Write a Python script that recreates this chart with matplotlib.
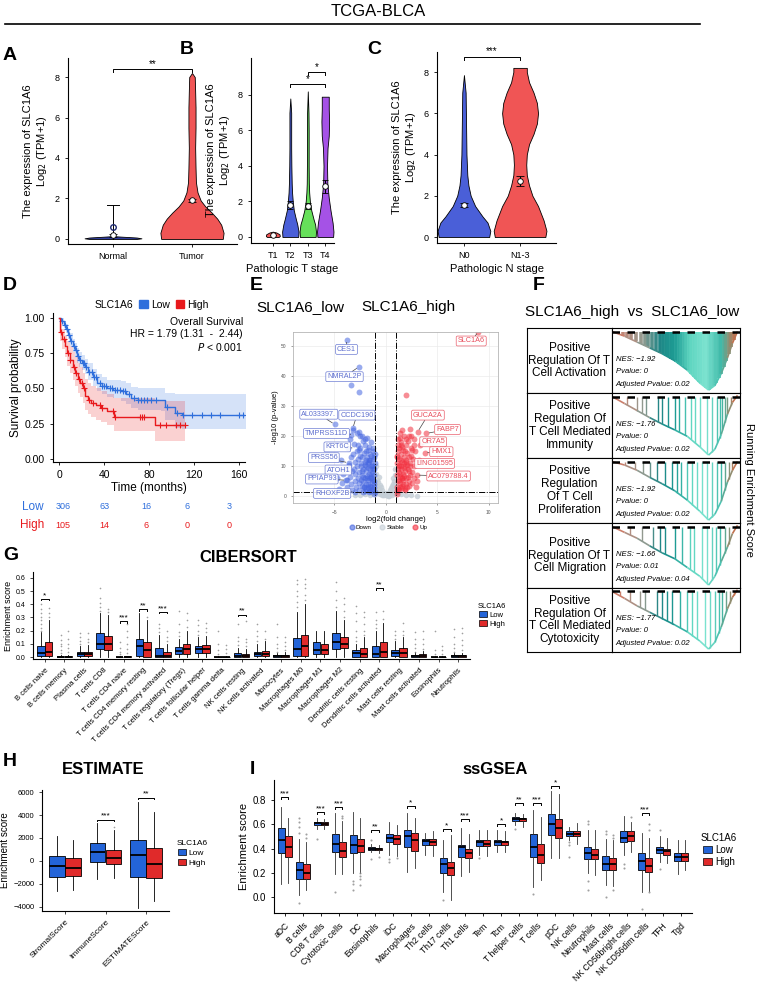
import numpy as np
import matplotlib.pyplot as plt
from matplotlib.patches import Patch
from matplotlib.lines import Line2D
from matplotlib.collections import LineCollection
from matplotlib.colors import LinearSegmentedColormap

plt.rcParams['font.family'] = ['Liberation Sans', 'DejaVu Sans']

W, H = 757, 982

# ---------------- data ----------------
# A: violin profiles (y level, half width)
normal_y = [0, 0.03, 0.07, 0.11, 0.14]
normal_w = [0.30, 0.36, 0.30, 0.12, 0.0]
tumor_y = [0, 0.3, 0.7, 1.0, 1.3, 1.6, 1.9, 2.3, 2.8, 3.5, 4.5, 5.5, 6.5, 7.3, 8.0, 8.2]
tumor_w = [0.39, 0.40, 0.37, 0.32, 0.25, 0.17, 0.11, 0.07, 0.05, 0.045, 0.04, 0.045, 0.045, 0.04, 0.035, 0.0]
a_groups = ['Normal', 'Tumor']
a_mean = [0.17, 1.9]
a_err = [0.05, 0.09]

# B: T stage
t_groups = ['T1', 'T2', 'T3', 'T4']
t1_y = [0, 0.05, 0.15, 0.25, 0.3]
t1_w = [0.33, 0.40, 0.38, 0.2, 0.0]
t2_y = [0, 0.3, 0.7, 1.0, 1.5, 2.0, 2.5, 3, 4, 5, 6, 7, 7.8]
t2_w = [0.45, 0.47, 0.40, 0.32, 0.20, 0.14, 0.10, 0.08, 0.06, 0.05, 0.05, 0.05, 0.0]
t3_y = [0, 0.3, 0.7, 1.0, 1.5, 2.0, 2.5, 3, 4, 5, 6, 7, 8.2]
t3_w = [0.45, 0.47, 0.42, 0.33, 0.20, 0.12, 0.08, 0.06, 0.05, 0.05, 0.05, 0.04, 0.0]
t4_y = [0, 0.3, 0.8, 1.5, 2.2, 3, 4, 5, 5.7, 6.5, 7.2, 7.85, 7.9, 7.9]
t4_w = [0.45, 0.47, 0.42, 0.30, 0.20, 0.12, 0.10, 0.13, 0.20, 0.22, 0.20, 0.20, 0.2, 0.0]
t_mean = [0.1, 1.8, 1.75, 2.85]
t_err = [0.0, 0.2, 0.15, 0.38]

# C: N stage
n_groups = ['N0', 'N1-3']
n0_y = [0, 0.3, 0.7, 1.0, 1.5, 2.0, 2.5, 3, 4, 5, 6, 7, 7.85]
n0_w = [0.45, 0.47, 0.42, 0.33, 0.20, 0.12, 0.08, 0.06, 0.045, 0.04, 0.035, 0.03, 0.0]
n1_y = [0, 0.3, 0.8, 1.5, 2.0, 2.5, 3.0, 3.5, 4.0, 4.5, 5.0, 5.5, 6.0, 6.5, 7.0, 7.5, 8.0, 8.2, 8.2]
n1_w = [0.45, 0.47, 0.42, 0.32, 0.22, 0.16, 0.12, 0.11, 0.12, 0.16, 0.24, 0.30, 0.32, 0.30, 0.24, 0.16, 0.12, 0.12, 0.0]
n_mean = [1.55, 2.7]
n_err = [0.1, 0.25]

# D: Kaplan-Meier
low_t = [0, 2, 4, 6, 8, 10, 12, 14, 16, 18, 20, 23, 26, 30, 34, 38, 43, 48, 55, 60, 64, 70, 91, 94, 103, 109, 166]
low_s = [1.0, 0.98, 0.95, 0.92, 0.88, 0.84, 0.80, 0.77, 0.73, 0.70, 0.68, 0.65, 0.62, 0.58, 0.54, 0.52, 0.50, 0.49, 0.48, 0.46, 0.43, 0.42, 0.42, 0.37, 0.325, 0.31, 0.31]
low_lo = [1.0, 0.96, 0.93, 0.89, 0.85, 0.80, 0.76, 0.72, 0.68, 0.65, 0.63, 0.60, 0.56, 0.52, 0.48, 0.46, 0.44, 0.43, 0.41, 0.39, 0.36, 0.35, 0.34, 0.28, 0.22, 0.21, 0.21]
low_hi = [1.0, 1.0, 0.98, 0.96, 0.92, 0.89, 0.85, 0.82, 0.79, 0.76, 0.74, 0.71, 0.68, 0.64, 0.60, 0.58, 0.56, 0.56, 0.55, 0.54, 0.51, 0.50, 0.50, 0.47, 0.46, 0.46, 0.46]
high_t = [0, 1, 3, 5, 7, 9.6, 12, 14, 17, 19, 21, 23, 26, 28, 33, 37, 43, 49, 85, 112]
high_s = [1.0, 0.90, 0.85, 0.80, 0.75, 0.70, 0.65, 0.61, 0.57, 0.54, 0.50, 0.45, 0.42, 0.40, 0.38, 0.36, 0.34, 0.30, 0.24, 0.24]
high_lo = [1.0, 0.84, 0.78, 0.72, 0.66, 0.61, 0.56, 0.52, 0.47, 0.44, 0.40, 0.35, 0.32, 0.30, 0.28, 0.26, 0.24, 0.20, 0.13, 0.13]
high_hi = [1.0, 0.96, 0.92, 0.88, 0.84, 0.80, 0.76, 0.72, 0.68, 0.65, 0.61, 0.57, 0.54, 0.52, 0.50, 0.48, 0.46, 0.43, 0.41, 0.41]
low_cens = [3, 5, 7, 9, 11, 13, 15, 17, 19, 21, 22, 24, 27, 29, 31, 33, 36, 38, 40, 42, 45, 47, 50, 52, 54, 57,
            59, 62, 67, 70, 73, 76, 78, 82, 86, 96, 105, 110, 118, 127, 135, 143, 160, 164]
high_cens = [1.5, 4, 8, 10, 13, 15, 18, 20, 22, 27, 30, 36, 38, 48, 50, 72, 74, 76, 90, 95, 104, 108, 112]
risk_times = [0, 40, 80, 120, 160]
risk_low = [306, 63, 16, 6, 3]
risk_high = [105, 14, 6, 0, 0]

# E: volcano
down_x = [-1.05, -1.1, -1.15, -1.1, -1.2, -1.05, -1.3, -1.35, -1.4, -1.3, -1.45, -1.25, -1.5, -1.6, -1.55, -1.7,
          -1.65, -1.75, -1.6, -1.8, -1.7, -1.9, -1.95, -2.0, -1.9, -2.05, -1.95, -2.1, -2.0, -2.2, -2.3, -2.25,
          -2.35, -2.2, -2.4, -2.3, -2.45, -2.2, -2.6, -2.55, -2.7, -2.6, -2.75, -2.65, -2.8, -2.5, -2.9, -3.0,
          -2.95, -3.1, -3.0, -3.2, -3.05, -2.8, -3.3, -3.4, -3.5, -3.3, -3.6, -3.4, -3.7, -3.5, -3.2, -3.8,
          -3.9, -4.1, -4.0, -4.3, -4.5, -4.2, -4.7, -1.2, -1.4, -1.8, -2.6, -1.0, -1.5, -2.0, -1.15, -1.4,
          -1.25, -1.6, -1.85, -2.15, -2.4, -1.1, -1.3, -1.7,
          -1.1, -1.2, -1.3, -1.4, -1.5, -1.6, -1.7, -1.8, -1.9, -2.0, -2.1, -2.2, -2.3, -2.4, -2.5, -2.6, -2.7,
          -1.3, -1.5, -1.6, -1.9, -2.0, -2.3, -1.1, -1.2, -1.4, -1.55, -1.75,
          -3.8, -2.6, -3.4, -2.6, -4.95, -3.2, -3.4, -3.6, -3.8, -3.0]
down_y = [1.5, 3, 5, 7, 9, 11, 2, 4.5, 6.5, 8, 10, 12.5, 14, 1.5, 3.5, 5.5, 7.5, 9.5, 11.5, 13, 15.5, 2.5, 4, 6,
          8.5, 10.5, 12, 14.5, 17, 1.5, 3.5, 5, 7, 9, 11, 13, 16, 18.5, 2, 4.5, 6, 8, 10, 12.5, 15, 20, 3, 5,
          7.5, 9, 11.5, 14, 17.5, 21, 2, 4, 6.5, 8.5, 10.5, 13, 16, 19, 22, 3, 5.5, 7.5, 9.5, 12, 2.5, 4.5, 6,
          16, 18, 19.5, 21.5, 14, 1.6, 1.8, 4, 13.5, 10, 12, 6, 3, 5.5, 9, 6, 3,
          0.8, 2.5, 5.5, 7.5, 9, 2.8, 4.2, 6.8, 10, 11.5, 3, 6.5, 8.5, 10, 13.5, 15.5, 17,
          10.5, 12, 16.5, 15, 19, 20, 13, 15, 3.2, 6.2, 11,
          52.2, 43.1, 37, 34.8, 23.9, 22.6, 20.5, 11.1, 5.3, 1.5]
stable_x = [0, 0.2, -0.2, 0.4, -0.4, 0.6, -0.6, 0.8, -0.8, 0.9, -0.9, 0.95, -0.95, 0.1, -0.1, 0.3, -0.3, 0.5,
            -0.5, 0.7, -0.7, 0.85, -0.85, 0.6, -0.6, 0.8, -0.8, 0.9, -0.9, 0.0, 0.7, -0.7, 0.9, -0.9, 0.5, -0.5,
            1.5, -1.5, 2.0, -2.0, 2.5, -2.5, 3.0, -3.0, 1.2, -1.2, 0.4, -0.4, 0.2, -0.2, 0.75, -0.75]
stable_y = [0.3, 1, 1.2, 2, 2.2, 3.5, 3.8, 5, 5.5, 7, 7.5, 9, 10, 0.5, 0.6, 0.2, 0.3, 1, 1.2, 2, 2.4, 3, 3.2,
            0.5, 0.6, 1, 1.2, 2, 2, 1.0, 6, 6.5, 4, 4.5, 2.8, 3, 0.6, 0.5, 0.4, 0.7, 0.3, 0.3, 0.2, 0.5, 1, 1,
            0.6, 0.4, 0.2, 0.3, 4.2, 4.6]
up_x = [1.05, 1.1, 1.15, 1.1, 1.2, 1.05, 1.3, 1.35, 1.4, 1.3, 1.45, 1.25, 1.5, 1.55, 1.7, 1.65, 1.75, 1.6, 1.8,
        1.7, 1.9, 1.95, 2.0, 1.9, 2.05, 1.95, 2.1, 2.0, 2.3, 2.25, 2.35, 2.2, 2.4, 2.3, 2.45, 2.2, 2.6, 2.7,
        2.6, 2.75, 2.65, 2.8, 2.5, 1.3, 1.5, 1.8, 1.2, 1.4, 2.9, 3.0, 1.6, 2.4, 2.7, 1.1, 1.3, 1.6, 1.45, 1.9,
        1.1, 1.2, 1.3, 1.4, 1.5, 1.6, 1.7, 1.8, 1.9, 2.0, 2.1, 2.2, 2.3, 2.4, 2.5, 2.6, 2.7, 1.3, 1.5, 1.6,
        1.9, 2.0, 2.3, 1.1, 1.2, 1.4, 1.55, 1.75, 1.15, 1.35,
        9.0, 2.0, 3.1, 3.95, 3.8, 3.0, 3.3, 3.2]
up_y = [1.6, 3, 5, 7, 9, 11, 2, 4.5, 6.5, 8, 10, 12.5, 14, 3.5, 5.5, 7.5, 9.5, 11.5, 13, 15.5, 2.5, 4, 6, 8.5,
        10.5, 12, 14.5, 17, 3.5, 5, 7, 9, 11, 13, 16, 18.5, 4.5, 6, 8, 10, 12.5, 15, 20, 16, 18, 20, 19, 21, 3,
        5, 22, 22.5, 19, 13.5, 10, 6, 17, 2,
        0.8, 2.5, 5.5, 7.5, 9, 2.8, 4.2, 6.8, 10, 11.5, 3, 6.5, 8.5, 10, 13.5, 15.5, 17, 10.5, 12, 16.5,
        15, 19, 20, 13, 15, 3.2, 6.2, 11, 17, 19.5,
        54.8, 33.7, 21.4, 20.9, 14.4, 7.0, 17.0, 12.0]
# label text, point x, point y, label x, label y
down_labels = [('CES1', -3.8, 52.2, -3.8, 48.9), ('NMRAL2P', -2.6, 43.1, -4.0, 39.8),
               ('AL033397.', -4.95, 23.9, -6.5, 27.3), ('CCDC190', -3.2, 22.6, -2.8, 27.0),
               ('TMPRSS11D', -3.4, 20.5, -5.75, 20.9), ('KRT6C', -3.0, 16.0, -4.7, 16.4),
               ('PRSS56', -3.6, 11.1, -6.0, 12.8), ('ATOH1', -3.3, 8.5, -4.6, 8.7),
               ('PPIAP93', -3.8, 5.3, -6.2, 5.7), ('RHOXF2B', -3.0, 1.5, -5.2, 0.9)]
up_labels = [('SLC1A6', 9.0, 54.8, 8.3, 51.7), ('GUCA2A', 3.1, 21.4, 4.1, 27.0),
             ('FABP7', 3.95, 20.9, 6.0, 22.2), ('OR7A5', 3.3, 17.0, 4.6, 18.1),
             ('HMX1', 3.8, 14.4, 5.4, 14.8), ('LINC01595', 3.2, 12.0, 4.75, 10.9),
             ('AC079788.4', 3.0, 7.0, 6.1, 6.7)]

# F: GSEA
gsea_names = ['Positive\nRegulation Of T\nCell Activation',
              'Positive\nRegulation Of\nT Cell Mediated\nImmunity',
              'Positive\nRegulation\nOf T Cell\nProliferation',
              'Positive\nRegulation Of T\nCell Migration',
              'Positive\nRegulation Of\nT Cell Mediated\nCytotoxicity']
gsea_nes = ['\u22121.92', '\u22121.76', '\u22121.92', '\u22121.66', '\u22121.77']
gsea_p = ['0', '0', '0', '0.01', '0']
gsea_padj = ['0.02', '0.02', '0.02', '0.04', '0.02']
gsea_x = [0, 0.1, 0.2, 0.3, 0.4, 0.5, 0.6, 0.7, 0.77, 0.82, 0.87, 0.92, 0.96, 1.0]
gsea_es = [[0, -0.08, -0.18, -0.28, -0.38, -0.50, -0.66, -0.88, -1.0, -0.92, -0.72, -0.45, -0.20, 0.0],
           [0, -0.12, -0.24, -0.36, -0.47, -0.57, -0.68, -0.86, -1.0, -0.90, -0.65, -0.30, -0.10, 0.02],
           [0, -0.06, -0.15, -0.27, -0.38, -0.50, -0.66, -0.85, -1.0, -0.90, -0.68, -0.35, -0.15, 0.0],
           [0, -0.10, -0.20, -0.33, -0.45, -0.55, -0.70, -0.85, -1.0, -0.85, -0.60, -0.35, -0.12, 0.02],
           [0, -0.12, -0.25, -0.36, -0.47, -0.58, -0.70, -0.86, -1.0, -0.88, -0.62, -0.30, -0.10, 0.03]]
gsea_hits = [[0.02, 0.05, 0.09, 0.12, 0.15, 0.19, 0.23, 0.26, 0.29, 0.32, 0.35, 0.38, 0.41, 0.43, 0.45, 0.47,
              0.49, 0.51, 0.53, 0.55, 0.57, 0.59, 0.61, 0.63, 0.65, 0.67, 0.69, 0.71, 0.73, 0.75, 0.77, 0.79,
              0.81, 0.83, 0.85, 0.87, 0.89, 0.91, 0.93, 0.95, 0.97],
             [0.03, 0.12, 0.2, 0.24, 0.27, 0.37, 0.4, 0.45, 0.5, 0.53, 0.58, 0.63, 0.66, 0.7, 0.76, 0.8, 0.84,
              0.86, 0.88, 0.9, 0.92, 0.95],
             [0.04, 0.1, 0.18, 0.25, 0.3, 0.36, 0.42, 0.48, 0.52, 0.55, 0.6, 0.64, 0.68, 0.72, 0.76, 0.8, 0.84,
              0.87, 0.9, 0.93, 0.96],
             [0.05, 0.14, 0.24, 0.33, 0.38, 0.42, 0.5, 0.56, 0.62, 0.65, 0.72, 0.76, 0.8, 0.83, 0.86, 0.9, 0.93],
             [0.06, 0.14, 0.22, 0.26, 0.36, 0.4, 0.44, 0.48, 0.54, 0.6, 0.64, 0.68, 0.74, 0.78, 0.82, 0.85,
              0.88, 0.91, 0.94, 0.97]]

# G: CIBERSORT (whislo, q1, med, q3, whishi)
cib_cells = ['B cells naive', 'B cells memory', 'Plasma cells', 'T cells CD8', 'T cells CD4 naive',
             'T cells CD4 memory resting', 'T cells CD4 memory activated', 'T cells regulatory (Tregs)',
             'T cells follicular helper', 'T cells gamma delta', 'NK cells resting', 'NK cells activated',
             'Monocytes', 'Macrophages M0', 'Macrophages M1', 'Macrophages M2', 'Dendritic cells resting',
             'Dendritic cells activated', 'Mast cells resting', 'Mast cells activated', 'Eosinophils',
             'Neutrophils']
cib_low = [(0, 0.005, 0.03, 0.08, 0.19), (0, 0, 0, 0.005, 0.012), (0, 0.005, 0.02, 0.035, 0.08),
           (0, 0.06, 0.10, 0.18, 0.33), (0, 0, 0, 0.003, 0.008), (0, 0.01, 0.08, 0.14, 0.33),
           (0, 0, 0.01, 0.07, 0.17), (0, 0.02, 0.045, 0.075, 0.14), (0, 0.03, 0.06, 0.085, 0.15),
           (0, 0, 0, 0.003, 0.008), (0, 0, 0.01, 0.03, 0.07), (0, 0.005, 0.02, 0.04, 0.10),
           (0, 0.002, 0.008, 0.015, 0.03), (0, 0.01, 0.06, 0.145, 0.34), (0, 0.02, 0.055, 0.11, 0.20),
           (0, 0.06, 0.11, 0.185, 0.35), (0, 0, 0.03, 0.05, 0.10), (0, 0, 0.02, 0.08, 0.20),
           (0, 0.005, 0.03, 0.05, 0.12), (0, 0, 0.005, 0.015, 0.035), (0, 0, 0, 0.003, 0.008),
           (0, 0.002, 0.007, 0.013, 0.03)]
cib_high = [(0, 0.005, 0.04, 0.115, 0.28), (0, 0, 0, 0.006, 0.015), (0, 0.01, 0.025, 0.04, 0.09),
            (0, 0.05, 0.095, 0.16, 0.32), (0, 0, 0, 0.004, 0.01), (0, 0, 0.055, 0.115, 0.28),
            (0, 0, 0.005, 0.04, 0.10), (0, 0.02, 0.06, 0.10, 0.20), (0, 0.03, 0.06, 0.09, 0.16),
            (0, 0, 0, 0.003, 0.008), (0, 0, 0.01, 0.025, 0.06), (0, 0.005, 0.025, 0.045, 0.12),
            (0, 0.002, 0.008, 0.016, 0.035), (0, 0.01, 0.08, 0.17, 0.40), (0, 0.02, 0.05, 0.10, 0.20),
            (0, 0.065, 0.10, 0.155, 0.28), (0, 0, 0.02, 0.07, 0.15), (0, 0, 0.04, 0.11, 0.26),
            (0, 0, 0.03, 0.07, 0.15), (0, 0, 0.006, 0.02, 0.045), (0, 0, 0, 0.003, 0.008),
            (0, 0.002, 0.008, 0.014, 0.03)]
cib_low_out = [[0.2, 0.22, 0.25, 0.28, 0.3, 0.33, 0.36, 0.4], [0.03, 0.05, 0.08, 0.1, 0.13, 0.17],
               [0.1, 0.12, 0.15, 0.18], [0.35, 0.38, 0.41, 0.45, 0.52], [0.02, 0.04, 0.07, 0.11], [],
               [0.19, 0.22, 0.25], [0.16, 0.19, 0.25, 0.35], [0.17, 0.2, 0.24, 0.28], [0.02, 0.05, 0.1, 0.2],
               [0.09, 0.12, 0.15, 0.25], [0.12, 0.16, 0.2, 0.25], [0.04, 0.07, 0.1, 0.15, 0.25],
               [0.38, 0.42, 0.46, 0.5, 0.55, 0.58], [], [0.38, 0.43, 0.5, 0.57],
               [0.12, 0.15, 0.2, 0.27, 0.33, 0.39], [0.22, 0.25, 0.28, 0.34], [0.14, 0.17, 0.2],
               [0.04, 0.07, 0.1, 0.14, 0.19], [0.02, 0.05, 0.2], [0.04, 0.07, 0.1, 0.15, 0.21]]
cib_high_out = [[0.3, 0.33, 0.37], [0.04, 0.07, 0.1, 0.14, 0.2], [0.11, 0.14, 0.18], [0.34, 0.36],
                [0.03, 0.06, 0.1, 0.15, 0.2, 0.25], [0.3], [0.12, 0.15, 0.2], [0.23, 0.28, 0.33],
                [0.19, 0.22, 0.26], [0.03, 0.06, 0.09], [0.08, 0.11, 0.14, 0.27], [0.14, 0.2],
                [0.05, 0.08, 0.11, 0.15], [0.43, 0.47, 0.52, 0.55, 0.59], [], [0.3, 0.35, 0.4, 0.45],
                [0.17, 0.2, 0.25, 0.3, 0.34], [0.29, 0.35], [0.17, 0.2, 0.26], [0.06, 0.1, 0.14, 0.2],
                [0.02, 0.05, 0.08], [0.05, 0.09, 0.13, 0.18, 0.22]]
cib_sig = [(0, '*', 0.44), (4, '***', 0.27), (5, '**', 0.36), (6, '***', 0.34), (10, '**', 0.32), (17, '**', 0.52)]

# H: ESTIMATE
est_cells = ['StromalScore', 'ImmuneScore', 'ESTIMATEScore']
est_low = [(-2600, -1400, -400, 400, 2200), (-1600, -100, 800, 1550, 3300), (-4100, -1400, 500, 1850, 5100)]
est_high = [(-2550, -1300, -600, 250, 1850), (-1450, -250, 250, 950, 2700), (-3500, -1500, -250, 1100, 4300)]
est_high_out = [[], [3000], []]
est_sig = [(1, '***', 3600), (2, '**', 5500)]

# I: ssGSEA
ss_cells = ['aDC', 'B cells', 'CD8 T cells', 'Cytotoxic cells', 'DC', 'Eosinophils', 'iDC', 'Macrophages',
            'Th2 cells', 'Th17 cells', 'Th1 cells', 'Tem', 'Tcm', 'T helper cells', 'T cells', 'pDC',
            'NK cells', 'Neutrophils', 'Mast cells', 'NK CD56bright cells', 'NK CD56dim cells', 'TFH', 'Tgd']
ss_low = [(0.11, 0.36, 0.47, 0.57, 0.74), (0.02, 0.15, 0.22, 0.29, 0.48), (0.56, 0.59, 0.61, 0.62, 0.65),
          (0.19, 0.37, 0.44, 0.52, 0.69), (0.20, 0.36, 0.43, 0.51, 0.70), (0.37, 0.39, 0.40, 0.41, 0.44),
          (0.35, 0.45, 0.49, 0.52, 0.62), (0.21, 0.41, 0.50, 0.55, 0.69), (0.35, 0.43, 0.46, 0.48, 0.53),
          (0.04, 0.20, 0.27, 0.32, 0.47), (0.17, 0.33, 0.41, 0.43, 0.57), (0.35, 0.42, 0.45, 0.47, 0.55),
          (0.37, 0.43, 0.45, 0.47, 0.55), (0.59, 0.63, 0.645, 0.655, 0.69), (0.08, 0.33, 0.41, 0.52, 0.72),
          (0.32, 0.51, 0.60, 0.68, 0.87), (0.47, 0.50, 0.52, 0.54, 0.58), (0.20, 0.31, 0.36, 0.41, 0.55),
          (0.10, 0.22, 0.27, 0.34, 0.48), (0.35, 0.45, 0.49, 0.54, 0.67), (0.04, 0.22, 0.30, 0.36, 0.53),
          (0.29, 0.36, 0.39, 0.41, 0.50), (0.19, 0.30, 0.33, 0.36, 0.47)]
ss_high = [(0.12, 0.33, 0.41, 0.50, 0.65), (0.06, 0.15, 0.20, 0.27, 0.45), (0.56, 0.59, 0.60, 0.615, 0.64),
           (0.19, 0.33, 0.38, 0.45, 0.63), (0.20, 0.37, 0.42, 0.48, 0.65), (0.36, 0.385, 0.395, 0.405, 0.43),
           (0.34, 0.44, 0.48, 0.51, 0.59), (0.24, 0.38, 0.47, 0.53, 0.65), (0.34, 0.43, 0.45, 0.48, 0.54),
           (-0.02, 0.18, 0.24, 0.29, 0.51), (0.21, 0.32, 0.36, 0.40, 0.52), (0.34, 0.42, 0.44, 0.47, 0.55),
           (0.37, 0.43, 0.45, 0.46, 0.54), (0.58, 0.63, 0.64, 0.65, 0.68), (0.14, 0.28, 0.35, 0.44, 0.66),
           (0.32, 0.49, 0.57, 0.64, 0.85), (0.44, 0.50, 0.52, 0.54, 0.61), (0.18, 0.31, 0.35, 0.40, 0.55),
           (0.09, 0.22, 0.27, 0.32, 0.47), (0.37, 0.46, 0.50, 0.54, 0.62), (0.05, 0.21, 0.26, 0.32, 0.49),
           (0.28, 0.35, 0.38, 0.40, 0.49), (0.22, 0.30, 0.33, 0.36, 0.47)]
ss_low_out = [[], [-0.05, 0.53, 0.58, 0.62, 0.65], [0.48], [0.04], [0.06, 0.11, 0.13], [0.31, 0.47],
              [0.29, 0.31], [], [], [-0.02], [], [0.32], [], [0.56], [0.03], [], [0.33, 0.43, 0.45],
              [0.06, 0.13, 0.6, 0.63], [0.0, 0.52, 0.54], [0.24, 0.27], [-0.1], [0.23, 0.55], []]
ss_high_out = [[], [0.49, 0.52], [], [0.65, 0.67], [0.1, 0.15, 0.17, 0.2], [0.33], [0.32], [], [], [], [],
               [], [], [], [], [], [], [], [0.06, 0.49, 0.51], [0.66], [0.04, 0.55, 0.60], [], []]
ss_sig = [(0, '***', 0.82), (2, '***', 0.70), (3, '***', 0.74), (5, '**', 0.55), (7, '*', 0.75),
          (9, '*', 0.56), (10, '***', 0.64), (12, '*', 0.60), (13, '**', 0.77), (14, '***', 0.77),
          (15, '*', 0.91), (20, '***', 0.69)]

# ---------------- helpers ----------------
BLUE = '#2364d8'
RED = '#e02a2a'
KM_BLUE = '#2f6fdc'
KM_RED = '#e8191c'


def box(l, t, r, b):
    return [l / W, 1 - b / H, (r - l) / W, (b - t) / H]


def ftext(x, y, s, **kw):
    fig.text(x / W, 1 - y / H, s, **kw)


def violin(ax, pos, ys, ws, color):
    ys = np.array(ys)
    ws = np.array(ws)
    ax.fill_betweenx(ys, pos - ws, pos + ws, facecolor=color, edgecolor='black', lw=0.6)


def bracket(ax, x1, x2, y, label, h, fs=7):
    ax.plot([x1, x1, x2, x2], [y - h, y, y, y - h], color='black', lw=0.7)
    ax.text((x1 + x2) / 2, y, label, ha='center', va='bottom', fontsize=fs)


def simple_axes(ax):
    for s in ['top', 'right']:
        ax.spines[s].set_visible(False)
    ax.spines['left'].set_linewidth(0.8)
    ax.spines['bottom'].set_linewidth(0.8)


def stats(rows, outs):
    res = []
    for (wl, q1, md, q3, wh), fl in zip(rows, outs):
        res.append(dict(whislo=wl, q1=q1, med=md, q3=q3, whishi=wh, fliers=fl))
    return res


def grouped_box(ax, low, high, low_out, high_out, lw=0.6, ms=1.5, wcol='black'):
    n = len(low)
    pos = np.arange(1, n + 1)
    for st, off, col in [(stats(low, low_out), -0.2, BLUE), (stats(high, high_out), 0.2, RED)]:
        ax.bxp(st, positions=pos + off, widths=0.38, patch_artist=True, showcaps=False,
               boxprops=dict(facecolor=col, edgecolor='black', lw=lw),
               medianprops=dict(color='black', lw=1.3),
               whiskerprops=dict(color=wcol, lw=lw),
               flierprops=dict(marker='o', ms=ms, mfc='#888888', mec='none', alpha=0.8))


def box_legend(ax, x, y, fs):
    ax.legend(handles=[Patch(fc=BLUE, ec='black', lw=0.5), Patch(fc=RED, ec='black', lw=0.5)],
              labels=['Low', 'High'], title='SLC1A6', loc='upper left', bbox_to_anchor=(x / W, 1 - y / H),
              bbox_transform=fig.transFigure, frameon=False, fontsize=fs, title_fontsize=fs,
              handlelength=1.0, handleheight=0.8, handletextpad=0.3, labelspacing=0.2, borderpad=0)


fig = plt.figure(figsize=(W / 100, H / 100), dpi=100)

# ---------------- title ----------------
ftext(378, 12, 'TCGA-BLCA', ha='center', va='center', fontsize=12)
fig.add_artist(Line2D([5 / W, 700 / W], [1 - 24 / H, 1 - 24 / H], color='black', lw=1.2))

for lab, x, y in [('A', 3, 55), ('B', 180, 50), ('C', 367, 50), ('D', 3, 285), ('E', 250, 285),
                  ('F', 533, 285), ('G', 3, 555), ('H', 3, 762), ('I', 250, 770)]:
    ftext(x, y, lab, fontsize=14, fontweight='bold', va='center', ha='left')

ylab = 'The expression of SLC1A6\nLog$_2$ (TPM+1)'

# ---------------- A ----------------
ax = fig.add_axes(box(68, 58, 237, 244))
simple_axes(ax)
violin(ax, 1, normal_y, normal_w, '#2f3d9e')
ax.plot([1, 1], [0, 1.7], color='black', lw=0.7)
ax.plot([0.93, 1.07], [1.7, 1.7], color='black', lw=0.7)
ax.plot(1, 0.6, 'o', ms=4, mfc='none', mec='#1f2a70', mew=1)
violin(ax, 2, tumor_y, tumor_w, '#f05555')
ax.errorbar([1, 2], a_mean, yerr=a_err, fmt='o', mfc='white', mec='black', ms=4, ecolor='black',
            capsize=3, lw=0.8, mew=0.6)
bracket(ax, 1, 2, 8.4, '**', 0.15)
ax.set_xlim(0.43, 2.57)
ax.set_ylim(-0.25, 8.94)
ax.set_xticks([1, 2])
ax.set_xticklabels(a_groups)
ax.set_yticks([0, 2, 4, 6, 8])
ax.tick_params(labelsize=6.5, length=2.5, width=0.6)
ax.set_ylabel(ylab, fontsize=8, labelpad=4)

# ---------------- B ----------------
ax = fig.add_axes(box(251, 58, 334, 243))
simple_axes(ax)
for i, (ys, ws, col) in enumerate([(t1_y, t1_w, '#f05555'), (t2_y, t2_w, '#4a5fd8'),
                                   (t3_y, t3_w, '#66e05a'), (t4_y, t4_w, '#a552e6')]):
    violin(ax, i + 1, ys, ws, col)
ax.errorbar([1, 2, 3, 4], t_mean, yerr=t_err, fmt='o', mfc='white', mec='black', ms=4, ecolor='black',
            capsize=2, lw=0.8, mew=0.6)
bracket(ax, 2, 4, 8.6, '*', 0.15)
bracket(ax, 3, 4, 9.3, '*', 0.15)
ax.set_xlim(-0.25, 4.5)
ax.set_ylim(-0.34, 10.08)
ax.set_xticks([1, 2, 3, 4])
ax.set_xticklabels(t_groups)
ax.set_yticks([0, 2, 4, 6, 8])
ax.tick_params(labelsize=6.5, length=2.5, width=0.6)
ax.set_ylabel(ylab, fontsize=8, labelpad=4)
ax.set_xlabel('Pathologic T stage', fontsize=8, labelpad=3)

# ---------------- C ----------------
ax = fig.add_axes(box(437, 52, 556, 243))
simple_axes(ax)
violin(ax, 1, n0_y, n0_w, '#4a5fd8')
violin(ax, 2, n1_y, n1_w, '#f05555')
ax.errorbar([1, 2], n_mean, yerr=n_err, fmt='o', mfc='white', mec='black', ms=4, ecolor='black',
            capsize=3, lw=0.8, mew=0.6)
bracket(ax, 1, 2, 8.75, '***', 0.15)
ax.set_xlim(0.52, 2.64)
ax.set_ylim(-0.29, 8.97)
ax.set_xticks([1, 2])
ax.set_xticklabels(n_groups)
ax.set_yticks([0, 2, 4, 6, 8])
ax.tick_params(labelsize=6.5, length=2.5, width=0.6)
ax.set_ylabel(ylab, fontsize=8, labelpad=4)
ax.set_xlabel('Pathologic N stage', fontsize=8, labelpad=3)

# ---------------- D ----------------
ax = fig.add_axes(box(53, 313, 245, 462))
simple_axes(ax)
for t, s, lo, hi, cens, col in [(low_t, low_s, low_lo, low_hi, low_cens, KM_BLUE),
                                (high_t, high_s, high_lo, high_hi, high_cens, KM_RED)]:
    ax.fill_between(t, lo, hi, step='post', color=col, alpha=0.2, lw=0)
    ax.step(t, s, where='post', color=col, lw=1)
    idx = np.searchsorted(t, cens, side='right') - 1
    ax.plot(cens, np.array(s)[idx], '+', color=col, ms=4, mew=0.8)
ax.set_xlim(-5.4, 165.5)
ax.set_ylim(-0.021, 1.035)
ax.set_xticks([0, 40, 80, 120, 160])
ax.set_yticks([0, 0.25, 0.5, 0.75, 1.0])
ax.set_yticklabels(['0.00', '0.25', '0.50', '0.75', '1.00'])
ax.tick_params(labelsize=7.5, length=2.5, width=0.6)
ax.set_xlabel('Time (months)', fontsize=8.5, labelpad=1)
ax.set_ylabel('Survival probability', fontsize=8.5, labelpad=2)
ax.text(0.99, 0.97, 'Overall Survival\nHR = 1.79 (1.31  -  2.44)\n$P$ < 0.001', transform=ax.transAxes,
        ha='right', va='top', fontsize=7.5, linespacing=1.2)
ftext(95, 305, 'SLC1A6', fontsize=7.5, va='center')
ax.legend(handles=[Patch(color=KM_BLUE), Patch(color=KM_RED)], labels=['Low', 'High'], ncol=2,
          loc='center left', bbox_to_anchor=(134 / W, 1 - 305 / H), bbox_transform=fig.transFigure,
          frameon=False, fontsize=7.5, handlelength=0.8, handleheight=0.8, handletextpad=0.3,
          columnspacing=0.6, borderpad=0)

rax = fig.add_axes(box(47, 498, 245, 534))
rax.axis('off')
rax.set_xlim(-15.4, 175.4)
rax.set_ylim(0, 2)
rax.text(-15.4, 1.5, 'Low ', color=KM_BLUE, fontsize=8.5, va='center', ha='right')
rax.text(-15.4, 0.5, 'High ', color=KM_RED, fontsize=8.5, va='center', ha='right')
for t, nl, nh in zip(risk_times, risk_low, risk_high):
    rax.text(t, 1.5, str(nl), color=KM_BLUE, fontsize=6.5, ha='center', va='center')
    rax.text(t, 0.5, str(nh), color=KM_RED, fontsize=6.5, ha='center', va='center')

# ---------------- E ----------------
ax = fig.add_axes(box(293, 332, 498, 503))
ax.grid(True, color='#ebebeb', lw=0.5)
ax.set_axisbelow(True)
for s in ax.spines.values():
    s.set_color('#b5b5b5')
    s.set_linewidth(0.6)
ax.scatter(stable_x, stable_y, s=16, color='#c4ced6', alpha=0.8, lw=0)
ax.scatter(down_x, down_y, s=18, color='#4666e0', alpha=0.55, lw=0)
ax.scatter(up_x, up_y, s=18, color='#f2303f', alpha=0.55, lw=0)
ax.axvline(-1, color='black', ls='-.', lw=0.7)
ax.axvline(1, color='black', ls='-.', lw=0.7)
ax.axhline(1.3, color='black', ls='-.', lw=0.7)
for labels, col in [(down_labels, '#5e6fcf'), (up_labels, '#e84d5c')]:
    for name, px, py, lx, ly in labels:
        ax.annotate(name, xy=(px, py), xytext=(lx, ly), fontsize=5.2, color=col, ha='center', va='center',
                    bbox=dict(boxstyle='round,pad=0.2', fc='white', ec=col, lw=0.5, alpha=0.9),
                    arrowprops=dict(arrowstyle='-', color='#444444', lw=0.5, shrinkA=0, shrinkB=2))
ax.set_xlim(-9.0, 10.9)
ax.set_ylim(-2.3, 54.7)
ax.set_xticks([-5, 0, 5, 10])
ax.set_yticks([0, 10, 20, 30, 40, 50])
ax.tick_params(labelsize=3.5, length=1.5, width=0.4, colors='#555555')
ax.set_xlabel('log2(fold change)', fontsize=5.5, labelpad=1)
ax.set_ylabel('-log10 (p-value)', fontsize=5.5, labelpad=1)
ax.legend(handles=[Line2D([], [], ls='', marker='o', ms=3.5, color=c, alpha=0.6) for c in
                   ['#4666e0', '#c4ced6', '#f2303f']], labels=['Down', 'Stable', 'Up'], ncol=3,
          loc='center', bbox_to_anchor=(388 / W, 1 - 527 / H), bbox_transform=fig.transFigure,
          frameon=False, fontsize=4.5, handletextpad=0.2, columnspacing=1.2, handlelength=1)
ftext(300, 307, 'SLC1A6_low', fontsize=11, ha='center', va='center')
ftext(408, 307, 'SLC1A6_high', fontsize=11, ha='center', va='center')

# ---------------- F ----------------
ftext(632, 312, 'SLC1A6_high  vs  SLC1A6_low', fontsize=11, ha='center', va='center')
gcmap = LinearSegmentedColormap.from_list('gsea', ['#d9735c', '#b58e80', '#8f9a90', '#1f8585', '#1d9b93',
                                                   '#5ed5c0', '#7ce3d0', '#3fb9a8', '#d9653f'])
row_edges = [328, 393, 458, 523, 588, 652]
for i in range(5):
    top, bot = row_edges[i], row_edges[i + 1]
    lax = fig.add_axes(box(527, top, 612, bot))
    lax.set_xticks([])
    lax.set_yticks([])
    for s in lax.spines.values():
        s.set_linewidth(0.8)
    lax.text(0.5, 0.5, gsea_names[i], ha='center', va='center', fontsize=8.5, transform=lax.transAxes,
             linespacing=1.1)
    gax = fig.add_axes(box(612, top, 740, bot))
    gax.set_xticks([])
    gax.set_yticks([])
    for s in gax.spines.values():
        s.set_linewidth(0.8)
    hits = np.array(gsea_hits[i])
    hit_es = np.interp(hits, gsea_x, gsea_es[i])
    segs = [[(h, 0), (h, e)] for h, e in zip(hits, hit_es)]
    gax.add_collection(LineCollection(segs, colors=gcmap(hits), lw=2.6 if i == 0 else 1.0))
    pts = np.column_stack([gsea_x, gsea_es[i]])
    csegs = [[pts[k], pts[k + 1]] for k in range(len(pts) - 1)]
    mids = (np.array(gsea_x[:-1]) + np.array(gsea_x[1:])) / 2
    gax.add_collection(LineCollection(csegs, colors=gcmap(mids), lw=1.2))
    gax.axhline(0, color='black', ls=(0, (3, 3)), lw=1.8)
    gax.set_xlim(0, 1.02)
    gax.set_ylim(-1.05, 0.06)
    gax.text(0.03, 0.52, 'NES: ' + gsea_nes[i], transform=gax.transAxes, fontsize=5.5, style='italic',
             va='center')
    gax.text(0.03, 0.33, 'Pvalue: ' + gsea_p[i], transform=gax.transAxes, fontsize=5.5, style='italic',
             va='center')
    gax.text(0.03, 0.13, 'Adjusted Pvalue: ' + gsea_padj[i], transform=gax.transAxes, fontsize=5.5,
             style='italic', va='center')
ftext(749, 490, 'Running Enrichment Score', fontsize=8, rotation=270, ha='center', va='center')

# ---------------- G ----------------
ax = fig.add_axes(box(33, 572, 470, 659))
simple_axes(ax)
grouped_box(ax, cib_low, cib_high, cib_low_out, cib_high_out, lw=0.6, ms=1.2)
for i, lab, y in cib_sig:
    bracket(ax, i + 1 - 0.2, i + 1 + 0.2, y, lab, 0.01, fs=6)
ax.set_xlim(0.4, 22.6)
ax.set_ylim(-0.015, 0.644)
ax.set_xticks(np.arange(1, len(cib_cells) + 1))
ax.set_xticklabels(cib_cells, rotation=45, ha='right', rotation_mode='anchor')
ax.set_yticks([0, 0.1, 0.2, 0.3, 0.4, 0.5, 0.6])
ax.tick_params(axis='y', labelsize=5, length=2, width=0.5)
ax.tick_params(axis='x', labelsize=5.5, length=2, width=0.5)
ax.set_ylabel('Enrichment score', fontsize=6.5, labelpad=2)
ftext(248, 557, 'CIBERSORT', fontsize=12, fontweight='bold', ha='center', va='center')
box_legend(ax, 474, 599, 5.5)

# ---------------- H ----------------
ax = fig.add_axes(box(42, 790, 169, 911))
simple_axes(ax)
grouped_box(ax, est_low, est_high, [[], [], []], est_high_out, lw=0.6, ms=1.2)
for i, lab, y in est_sig:
    bracket(ax, i + 1 - 0.2, i + 1 + 0.2, y, lab, 150, fs=6)
ax.set_xlim(0.43, 3.57)
ax.set_ylim(-4348, 6174)
ax.set_xticks([1, 2, 3])
ax.set_xticklabels(est_cells, rotation=45, ha='right', rotation_mode='anchor')
ax.set_yticks([-4000, -2000, 0, 2000, 4000, 6000])
ax.tick_params(axis='y', labelsize=5.5, length=2, width=0.5)
ax.tick_params(axis='x', labelsize=6, length=2, width=0.5)
ax.set_ylabel('Enrichment score', fontsize=7, labelpad=2)
ftext(103, 770, 'ESTIMATE', fontsize=12, fontweight='bold', ha='center', va='center')
box_legend(ax, 172, 836, 6)

# ---------------- I ----------------
ax = fig.add_axes(box(274, 780, 692, 913))
simple_axes(ax)
grouped_box(ax, ss_low, ss_high, ss_low_out, ss_high_out, lw=0.6, ms=1.5, wcol='#333333')
for i, lab, y in ss_sig:
    bracket(ax, i + 1 - 0.2, i + 1 + 0.2, y, lab, 0.015, fs=6)
ax.set_xlim(0.4, 23.6)
ax.set_ylim(-0.13, 0.963)
ax.set_xticks(np.arange(1, len(ss_cells) + 1))
ax.set_xticklabels(ss_cells, rotation=45, ha='right', rotation_mode='anchor')
ax.set_yticks([0, 0.2, 0.4, 0.6, 0.8])
ax.tick_params(axis='y', labelsize=7, length=2.5, width=0.6)
ax.tick_params(axis='x', labelsize=6.2, length=2.5, width=0.6)
ax.set_ylabel('Enrichment score', fontsize=8, labelpad=2)
ftext(495, 770, 'ssGSEA', fontsize=12, fontweight='bold', ha='center', va='center')
box_legend(ax, 696, 828, 7)

fig.savefig('out.png', dpi=100)
